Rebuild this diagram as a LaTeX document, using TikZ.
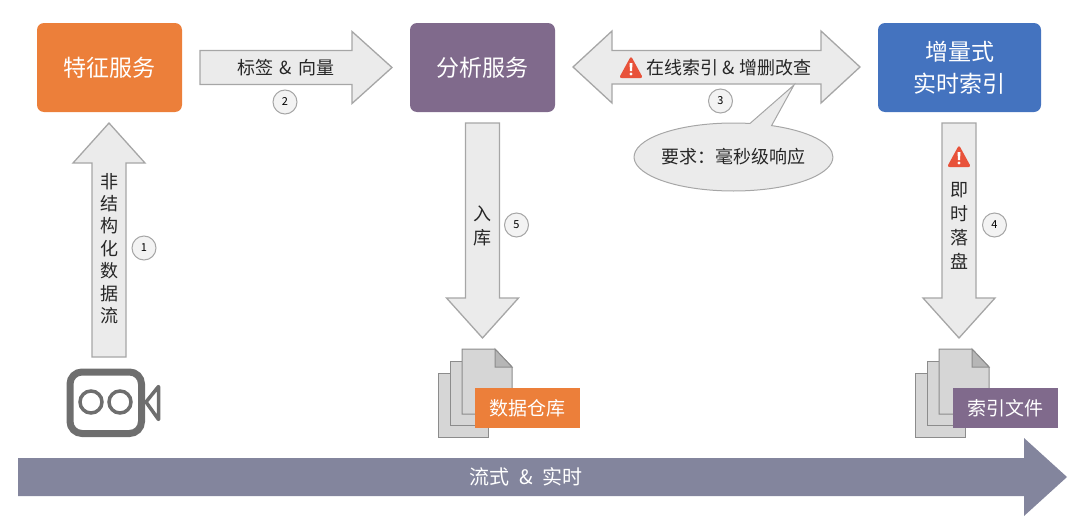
\documentclass[tikz,border=0pt]{standalone}
\usepackage{fontspec}
\setmainfont{Noto Sans CJK SC}
\usepackage{xcolor}
\usetikzlibrary{calc}
\usetikzlibrary{shapes.callouts}

\definecolor{featOrange}{HTML}{EC7F3A}
\definecolor{anaPurple}{HTML}{806A8C}
\definecolor{idxBlue}{HTML}{4473BF}
\definecolor{arrowFill}{HTML}{EBEBEB}
\definecolor{arrowLine}{HTML}{A6A6A6}
\definecolor{streamGrey}{HTML}{83859D}
\definecolor{warnRed}{HTML}{E8523A}
\definecolor{camGrey}{HTML}{6E6E6E}
\definecolor{docFill}{HTML}{D6D6D6}
\definecolor{docLine}{HTML}{8C8C8C}

\tikzset{
  service/.style={rounded corners=7pt, text=white, align=center, minimum height=89pt,
    font=\fontsize{23}{32}\selectfont},
  tag/.style={text=white, minimum width=105pt, minimum height=40pt, font=\fontsize{19}{22}\selectfont},
  blockline/.style={draw=arrowLine, fill=arrowFill, line width=1.3pt, line join=miter},
  arrowtext/.style={text=black!85, inner sep=0pt, align=center, font=\fontsize{18}{24}\selectfont},
  stepnum/.style={circle, draw=arrowLine, fill=arrowFill!60, line width=1pt, minimum size=24pt,
    inner sep=0pt, font=\fontsize{11}{11}\selectfont},
  warnsign/.pic={
    \fill[warnRed, rounded corners=2.5pt] (-12,10) -- (0,-12) -- (12,10) -- cycle;
    \fill[white] (-1.5,-5) -- (1.5,-5) -- (1,3) -- (-1,3) -- cycle;
    \fill[white] (0,6) circle (1.7);
  },
  docstack/.pic={
    \draw[draw=docLine, fill=docFill, line width=1pt] (-24,24) rectangle (26,88);
    \draw[draw=docLine, fill=docFill, line width=1pt] (-12,12) rectangle (38,76);
    \draw[draw=docLine, fill=docFill, line width=1pt] (0,0) -- (33,0) -- (50,18) -- (50,65) -- (0,65) -- cycle;
    \draw[draw=docLine, fill=docFill!85!black, line width=1pt] (33,0) -- (33,18) -- (50,18) -- cycle;
  },
}

% tail, tip: body half width 17, head half width 36, head length 40
\newcommand{\blockarrow}[2]{
  \coordinate (hb) at ($(#2)!40pt!(#1)$);
  \draw[blockline] ($(#1)!17pt!90:(#2)$) -- ($(hb)!17pt!90:(#2)$) -- ($(hb)!36pt!90:(#2)$)
    -- (#2) -- ($(hb)!36pt!-90:(#2)$) -- ($(hb)!17pt!-90:(#2)$) -- ($(#1)!17pt!-90:(#2)$) -- cycle;
}

\begin{document}
\begin{tikzpicture}[x=1pt, y=-1pt]
      \useasboundingbox (0, 0) rectangle (1080, 525);

      % services
      \node[service, fill=featOrange, minimum width=145pt] (feat) at (109.5, 67.5) {特征服务};
      \node[service, fill=anaPurple, minimum width=145pt] (ana) at (482.5, 67.5) {分析服务};
      \node[service, fill=idxBlue, minimum width=163pt] (idx) at (959.5, 67.5) {增量式\\实时索引};

      % block arrows
      \coordinate (camtop) at (109, 357);
      \coordinate (feattip) at (109, 123);
      \blockarrow{camtop}{feattip}
      \coordinate (tagtail) at (200, 67.5);
      \coordinate (tagtip) at (392, 67.5);
      \blockarrow{tagtail}{tagtip}
      \coordinate (storetail) at (482.5, 123);
      \coordinate (storetip) at (482.5, 338);
      \blockarrow{storetail}{storetip}
      \coordinate (flushtail) at (959, 123);
      \coordinate (flushtip) at (959, 338);
      \blockarrow{flushtail}{flushtip}

      \draw[blockline] (573, 67) -- (612, 31) -- (612, 50.5) -- (821, 50.5) -- (821, 31) -- (860, 67)
        -- (821, 103) -- (821, 84) -- (612, 84) -- (612, 103) -- cycle;

      \node[ellipse callout, draw=arrowLine, fill=arrowFill, line width=1pt, minimum width=192pt,
        minimum height=68pt, callout absolute pointer={(794, 85)}, callout pointer arc=13,
        inner sep=-1.7pt, font=\fontsize{18}{24}\selectfont, text=black!85] (req) at (733.5, 157) {要求：毫秒级响应};

      % labels
      \node[arrowtext, font=\fontsize{18}{22.4}\selectfont] (unstruct) at (109, 248.5) {非\\结\\构\\化\\数\\据\\流};
      \node[arrowtext] (taglabel) at (286, 67.5) {标签\hspace{2.5pt} \& \hspace{2.5pt}向量};
      \node[arrowtext] (online) at (729, 67.5) {在线索引 \& 增删改查};
      \node[arrowtext] (store) at (482.5, 226) {入\\库};
      \node[arrowtext] (flush) at (959, 225.5) {即\\时\\落\\盘};

      \pic at (631, 68) {warnsign};
      \pic at (959, 157) {warnsign};

      \node[stepnum] (n1) at (144, 248) {1};
      \node[stepnum] (n2) at (285, 102) {2};
      \node[stepnum] (n3) at (720.5, 101) {3};
      \node[stepnum] (n4) at (994.5, 225) {4};
      \node[stepnum] (n5) at (516.5, 225) {5};

      % camera
      \draw[camGrey, line width=7pt, rounded corners=12pt] (70, 372) rectangle (141.5, 433.5);
      \draw[camGrey, line width=3.5pt] (91, 402) circle (11);
      \draw[camGrey, line width=3.5pt] (120, 402) circle (11);
      \draw[camGrey, line width=3.5pt, line join=round] (146, 402) -- (158.5, 386.5) -- (158.5, 419.5) -- cycle;

      % file stacks
      \pic at (462, 349) {docstack};
      \pic at (939, 349) {docstack};
      \node[tag, fill=featOrange] (ware) at (527.5, 408) {数据仓库};
      \node[tag, fill=anaPurple] (files) at (1005, 408) {索引文件};

      % stream bar
      \fill[streamGrey] (18, 458) -- (1024, 458) -- (1024, 438) -- (1067, 477) -- (1024, 516)
        -- (1024, 496) -- (18, 496) -- cycle;
      \node[text=white, font=\fontsize{20}{22}\selectfont] (stream) at (526, 477) {流式\hspace{5pt} \& \hspace{5pt}实时};

\end{tikzpicture}
\end{document}
